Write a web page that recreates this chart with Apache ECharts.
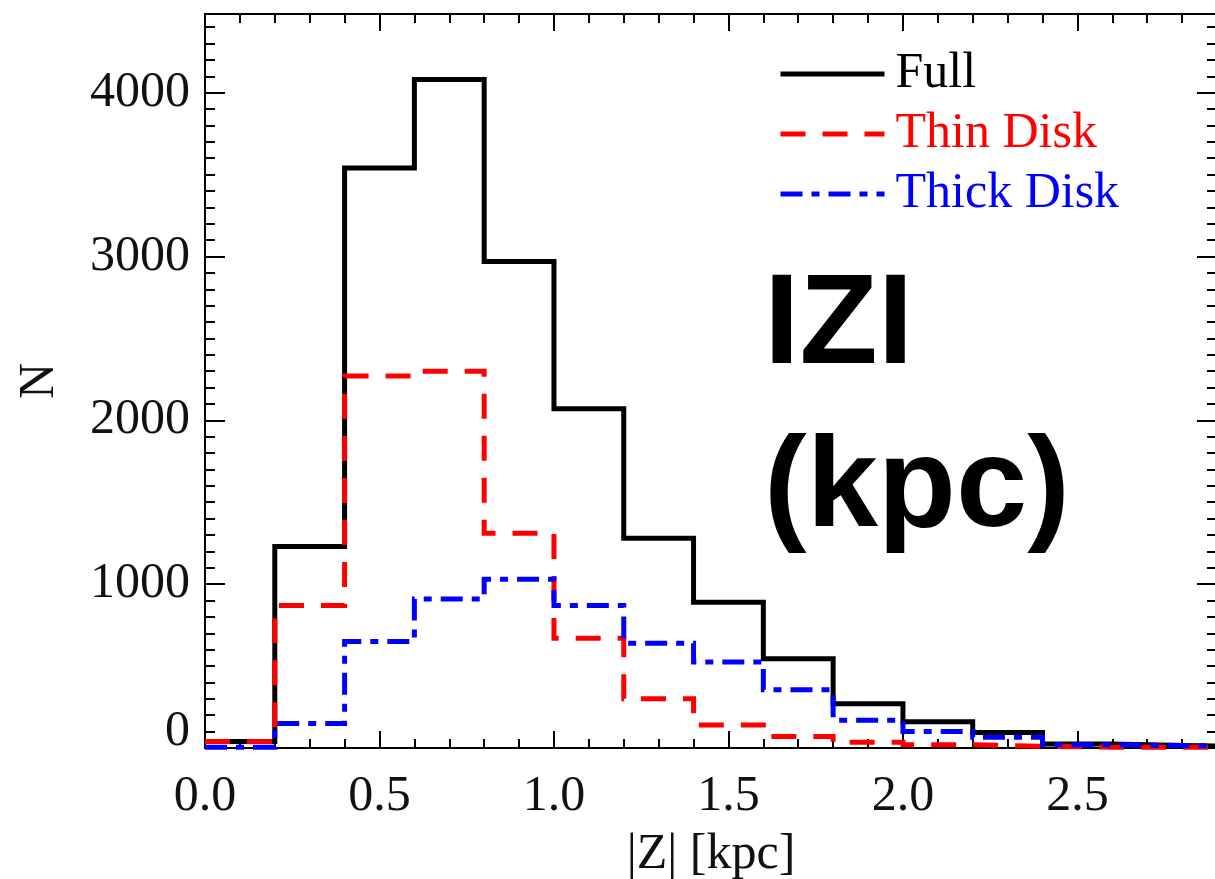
<!DOCTYPE html>
<html>
<head>
<meta charset="utf-8">
<script src="https://cdn.jsdelivr.net/npm/echarts@6/dist/echarts.min.js"></script>
<style>
html,body{margin:0;padding:0;background:#fff;}
#chart{width:1215px;height:879px;}
</style>
</head>
<body>
<div id="chart"></div>
<script>
// ---- data ----
const binEdges    = [0.0, 0.2, 0.4, 0.6, 0.8, 1.0, 1.2, 1.4, 1.6, 1.8, 2.0, 2.2, 2.4, 2.6, 2.8, 3.0];
const fullCounts  = [40, 1230, 3540, 4080, 2970, 2070, 1280, 890, 545, 270, 160, 95, 25, 15, 10];
const thinCounts  = [40, 870, 2270, 2300, 1310, 670, 300, 140, 70, 35, 20, 10, 5, 5, 5];
const thickCounts = [5, 150, 650, 910, 1030, 870, 640, 525, 355, 170, 100, 65, 20, 15, 10];
const seriesNames = ['Full', 'Thin Disk', 'Thick Disk'];
const xTickLabels = ['0.0', '0.5', '1.0', '1.5', '2.0', '2.5'];
const yTickLabels = ['0', '1000', '2000', '3000', '4000'];
const annotation  = 'IZI\n(kpc)';

function stepData(counts) {
  const d = counts.map((c, i) => [binEdges[i], c]);
  d.push([binEdges[counts.length], counts[counts.length - 1]]);
  return d;
}

const SERIF = '"Liberation Serif", "DejaVu Serif", serif';
const chart = echarts.init(document.getElementById('chart'), null, {renderer: 'canvas'});

const axisLineStyle = {color: '#000', width: 2};
function xAx(pos, major) {
  return {
    type: 'value', position: pos, min: 0, max: 2.9,
    interval: major ? 0.5 : 0.1,
    axisLine: {show: major, onZero: false, lineStyle: axisLineStyle},
    axisTick: {show: true, inside: true, length: major ? 17 : 9, lineStyle: {color: '#000', width: 2}},
    axisLabel: (major && pos === 'bottom') ? {
      show: true, margin: 24, showMaxLabel: false,
      fontFamily: SERIF, fontSize: 50, color: '#111',
      formatter: v => { const s = v.toFixed(1); return xTickLabels.indexOf(s) >= 0 ? s : ''; }
    } : {show: false},
    splitLine: {show: false},
    name: (major && pos === 'bottom') ? '|Z| [kpc]' : '',
    nameLocation: 'middle', nameGap: 82,
    nameTextStyle: {fontFamily: SERIF, fontSize: 50, color: '#111'}
  };
}
function yAx(pos, major) {
  return {
    type: 'value', position: pos, min: 0, max: 4480,
    interval: major ? 1000 : 100,
    axisLine: {show: major, onZero: false, lineStyle: axisLineStyle},
    axisTick: {show: true, inside: true, length: major ? 20 : 10, lineStyle: {color: '#000', width: 2}},
    axisLabel: (major && pos === 'left') ? {
      show: true, margin: 15, showMaxLabel: false,
      fontFamily: SERIF, fontSize: 50, color: '#111',
      formatter: v => { const s = String(Math.round(v)); if (yTickLabels.indexOf(s) < 0) return ''; return s === '0' ? '{z|0}' : s; },
      rich: {z: {fontFamily: SERIF, fontSize: 50, color: '#111', padding: [0, 0, 32, 0]}}
    } : {show: false},
    splitLine: {show: false},
    name: (major && pos === 'left') ? 'N' : '',
    nameLocation: 'middle', nameGap: 140, nameRotate: 90,
    nameTextStyle: {fontFamily: SERIF, fontSize: 50, color: '#111'}
  };
}

const colors = ['#000000', '#ff0000', '#0000ff'];
const dashes = ['solid', [25, 17], [22, 9, 8, 9]];
const countsList = [fullCounts, thinCounts, thickCounts];

chart.setOption({
  animation: false,
  backgroundColor: '#fff',
  grid: {left: 205, top: 14, width: 1012, height: 734, containLabel: false, outerBoundsMode: 'none'},
  title: {
    text: annotation, left: 764, top: 246, padding: 0,
    textStyle: {fontFamily: '"Liberation Sans", Arial, sans-serif', fontWeight: 'bold', fontSize: 128, lineHeight: 163, color: '#000'}
  },
  legend: {
    orient: 'vertical', left: 778, top: 49, padding: 0,
    itemWidth: 104, itemHeight: 8, itemGap: 10,
    selectedMode: false,
    itemStyle: {opacity: 0},
    lineStyle: {width: 5},
    textStyle: {fontFamily: SERIF, fontSize: 50, padding: [0, 0, 0, 6]},
    data: seriesNames.map((n, i) => ({name: n, textStyle: {color: colors[i]}}))
  },
  xAxis: [xAx('bottom', true), xAx('bottom', false), xAx('top', true), xAx('top', false)],
  yAxis: [yAx('left', true), yAx('left', false), yAx('right', true), yAx('right', false)],
  series: seriesNames.map((n, i) => ({
    name: n, type: 'line', step: 'end', xAxisIndex: 0, yAxisIndex: 0,
    symbol: 'none', showSymbol: false, clip: true,
    data: stepData(countsList[i]),
    color: colors[i],
    lineStyle: {color: colors[i], width: 5, type: dashes[i], cap: 'butt', join: 'miter'},
    z: 2 + i
  }))
});
</script>
</body>
</html>
